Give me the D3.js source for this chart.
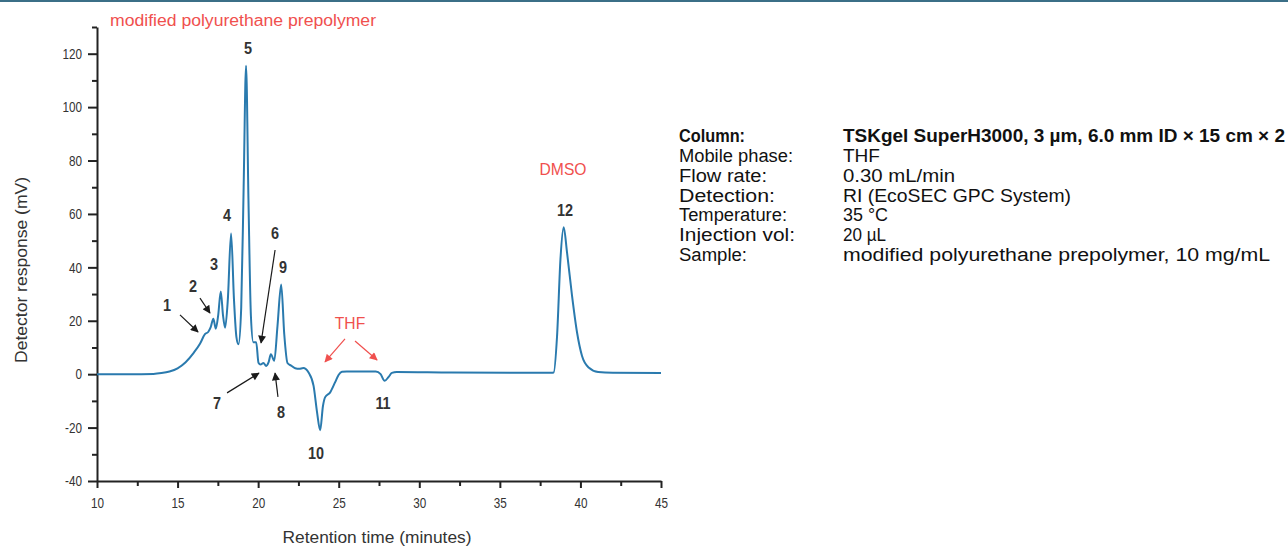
<!DOCTYPE html>
<html>
<head>
<meta charset="utf-8">
<script src="https://cdn.jsdelivr.net/npm/d3@7"></script>
<style>
  html, body { margin: 0; padding: 0; background: #fff; }
  svg { display: block; }
  text { font-family: "Liberation Sans", Arial, sans-serif; }
</style>
</head>
<body>
<svg id="chart" width="1288" height="547"></svg>
<script>
// ---------- data ----------
const retentionTime = [10, 12, 13.5, 14.0, 14.5, 15.0, 15.5, 16.0, 16.4, 16.7, 16.9, 17.05, 17.22, 17.37, 17.52, 17.68, 17.82, 17.95, 18.12, 18.32, 18.5, 18.65, 18.78, 18.95, 19.1, 19.25, 19.4, 19.55, 19.7, 19.88, 20.02, 20.15, 20.33, 20.5, 20.65, 20.79, 21.0, 21.2, 21.43, 21.62, 21.82, 22.05, 22.3, 22.55, 22.8, 23.13, 23.44, 23.65, 23.85, 24.02, 24.16, 24.47, 24.78, 25.0, 25.2, 25.5, 27.3, 27.6, 27.85, 28.1, 28.3, 28.6, 32, 38.2, 38.34, 38.55, 38.76, 38.96, 39.17, 39.48, 39.79, 40.1, 40.51, 41.1, 42, 45];
const response = [0, 0, 0.1, 0.4, 1.0, 2.2, 4.5, 8, 11.5, 15, 15.8, 17.5, 20.8, 17, 22, 31, 22, 17.4, 28, 52.7, 28, 14, 11.2, 25, 70, 115.5, 65, 22, 12, 12, 4.3, 3.6, 4.2, 3.1, 4.5, 7.5, 5, 18, 33.6, 15, 4.2, 3.2, 2.2, 2.0, 2.3, 0.6, -4.4, -14, -21, -12, -8.6, -6.8, -3, -0.2, 0.9, 1.0, 1.0, 0, -2.5, -1, 0.5, 0.8, 0.6, 0.5, 0.6, 14.3, 43, 55, 45.5, 29.3, 15.6, 6.8, 2.5, 0.8, 0.5, 0.4];

const xTicks = [10, 15, 20, 25, 30, 35, 40, 45];
const xMinorTicks = [12.5, 17.5, 22.5, 27.5, 32.5, 37.5, 42.5];
const yTicks = [-40, -20, 0, 20, 40, 60, 80, 100, 120];
const yMinorTicks = [-30, -10, 10, 30, 50, 70, 90, 110, 130];

const peakNames = ["1", "2", "3", "4", "5", "6", "7", "8", "9", "10", "11", "12"];
const peakLabelX = [14.34, 15.96, 17.26, 18.07, 19.37, 21.05, 17.45, 21.42, 21.54, 23.59, 27.75, 39.04];
const peakLabelY = [26.0, 33.1, 41.3, 59.6, 122.2, 52.9, -10.8, -14.1, 40.1, -29.4, -10.8, 61.5];

// arrows: [x1, y1, x2, y2] in data units
const blackArrows = [
  [15.15, 22.2, 16.27, 15.8],
  [16.39, 28.5, 17.01, 22.9],
  [21.05, 46.5, 20.18, 11.7],
  [18.07, -7.0, 20.05, 0.4],
  [21.23, -8.5, 21.05, 0.4]
];
const redArrows = [
  [25.39, 13.2, 24.15, 4.6],
  [26.01, 12.4, 27.38, 5.3]
];
const redLabels = ["THF", "DMSO"];
const redLabelX = [25.70, 38.92];
const redLabelY = [19.2, 76.8];

const title = "modified polyurethane prepolymer";
const xTitle = "Retention time (minutes)";
const yTitle = "Detector response (mV)";

const condKeys = ["Column:", "Mobile phase:", "Flow rate:", "Detection:", "Temperature:", "Injection vol:", "Sample:"];
const condVals = ["TSKgel SuperH3000, 3 µm, 6.0 mm ID × 15 cm × 2", "THF", "0.30 mL/min", "RI (EcoSEC GPC System)", "35 °C", "20 µL", "modified polyurethane prepolymer, 10 mg/mL"];

// ---------- layout ----------
const keyWidths = [66, 114, 88, 96, 108, 116, 68];
const valWidths = [442, 37, 112, 228, 45, 43, 427];

// ---------- drawing ----------
const svg = d3.select("#chart");
const ink = "#222";
const lineColor = "#2a7aae";
const red = "#f0504e";

function fit(sel, w) {
  sel.attr("textLength", w).attr("lengthAdjust", "spacingAndGlyphs");
}
function squeeze(sel, k) {
  sel.each(function () {
    const w = this.getComputedTextLength();
    d3.select(this).attr("textLength", w * k).attr("lengthAdjust", "spacingAndGlyphs");
  });
}

// top frame rule
svg.append("rect").attr("x", 0).attr("y", 0).attr("width", 1288).attr("height", 2).attr("fill", "#3b6f87");

const x = d3.scaleLinear().domain([10, 45]).range([97, 661]);
const y = d3.scaleLinear().domain([-40, 130]).range([481, 27]);

const defs = svg.append("defs");
function marker(id, color, w, h) {
  defs.append("marker").attr("id", id)
    .attr("viewBox", "0 0 10 10").attr("refX", 9).attr("refY", 5)
    .attr("markerWidth", w).attr("markerHeight", h)
    .attr("markerUnits", "userSpaceOnUse")
    .attr("orient", "auto")
    .append("path").attr("d", "M0,0 L10,5 L0,10 Z").attr("fill", color);
}
marker("ahBlack", "#1a1a1a", 9, 8);
marker("ahRed", red, 9, 8);

// axes
const gx = svg.append("g").attr("transform", `translate(0,${y(-40)})`)
  .call(d3.axisBottom(x).tickValues(xTicks).tickSize(7).tickSizeOuter(0).tickPadding(9).tickFormat(d => String(d)));
const gxm = svg.append("g").attr("transform", `translate(0,${y(-40)})`)
  .call(d3.axisBottom(x).tickValues(xMinorTicks).tickSize(5).tickSizeOuter(0).tickFormat(""));
const gy = svg.append("g").attr("transform", `translate(${x(10)},0)`)
  .call(d3.axisLeft(y).tickValues(yTicks).tickSize(9).tickSizeOuter(0).tickPadding(6).tickFormat(d => String(d)));
const gym = svg.append("g").attr("transform", `translate(${x(10)},0)`)
  .call(d3.axisLeft(y).tickValues(yMinorTicks).tickSize(5).tickSizeOuter(0).tickFormat(""));

[gx, gxm, gy, gym].forEach(g => {
  g.select(".domain").attr("stroke", ink).attr("stroke-width", 2);
  g.selectAll(".tick line").attr("stroke", ink).attr("stroke-width", 2);
  g.selectAll(".tick text").attr("fill", "#333").attr("font-size", 15)
    .attr("font-family", "'Liberation Sans', Arial, sans-serif");
});
gym.select(".domain").remove();
gxm.select(".domain").remove();
squeeze(gx.selectAll(".tick text"), 0.78);
squeeze(gy.selectAll(".tick text"), 0.78);

// axis titles
svg.append("text").attr("x", 377).attr("y", 543).attr("text-anchor", "middle")
  .attr("font-size", 17).attr("fill", "#333").text(xTitle).call(fit, 189);
svg.append("text").attr("transform", `translate(27,270) rotate(-90)`)
  .attr("text-anchor", "middle").attr("font-size", 17).attr("fill", "#333").text(yTitle).call(fit, 186);

// chart title
svg.append("text").attr("x", 110).attr("y", 26)
  .attr("font-size", 16).attr("fill", red).text(title).call(fit, 266);

// chromatogram
const pts = retentionTime.map((t, i) => [t, response[i]]);
svg.append("path").datum(pts)
  .attr("fill", "none").attr("stroke", lineColor).attr("stroke-width", 2)
  .attr("stroke-linejoin", "round")
  .attr("d", d3.line().x(d => x(d[0])).y(d => y(d[1])).curve(d3.curveMonotoneX));

// arrows
svg.selectAll("line.barrow").data(blackArrows).join("line").attr("class", "barrow")
  .attr("x1", d => x(d[0])).attr("y1", d => y(d[1]))
  .attr("x2", d => x(d[2])).attr("y2", d => y(d[3]))
  .attr("stroke", "#1a1a1a").attr("stroke-width", 1.2).attr("marker-end", "url(#ahBlack)");
svg.selectAll("line.rarrow").data(redArrows).join("line").attr("class", "rarrow")
  .attr("x1", d => x(d[0])).attr("y1", d => y(d[1]))
  .attr("x2", d => x(d[2])).attr("y2", d => y(d[3]))
  .attr("stroke", red).attr("stroke-width", 1.2).attr("marker-end", "url(#ahRed)");

// peak labels
svg.selectAll("text.peak").data(peakNames).join("text").attr("class", "peak")
  .attr("x", (d, i) => x(peakLabelX[i])).attr("y", (d, i) => y(peakLabelY[i]) + 6)
  .attr("text-anchor", "middle").attr("font-size", 17).attr("font-weight", "bold").attr("fill", "#333")
  .text(d => d)
  .call(squeeze, 0.85);

svg.selectAll("text.red").data(redLabels).join("text").attr("class", "red")
  .attr("x", (d, i) => x(redLabelX[i])).attr("y", (d, i) => y(redLabelY[i]) + 6)
  .attr("text-anchor", "middle").attr("font-size", 17).attr("fill", red)
  .text(d => d)
  .call(squeeze, 0.92);

// conditions table
const keyX = 679, valX = 843;
const rows = svg.append("g").selectAll("g.row").data(condKeys).join("g").attr("class", "row")
  .attr("transform", (d, i) => `translate(0,${142 + i * 19.85})`);
rows.append("text").attr("x", keyX).attr("font-size", 18).attr("fill", "#111")
  .attr("font-weight", (d, i) => i === 0 ? "bold" : "normal").text(d => d)
  .attr("textLength", (d, i) => keyWidths[i]).attr("lengthAdjust", "spacingAndGlyphs");
rows.append("text").attr("x", valX).attr("font-size", 18).attr("fill", "#111")
  .attr("font-weight", (d, i) => i === 0 ? "bold" : "normal").text((d, i) => condVals[i])
  .attr("textLength", (d, i) => valWidths[i]).attr("lengthAdjust", "spacingAndGlyphs");
</script>
</body>
</html>
